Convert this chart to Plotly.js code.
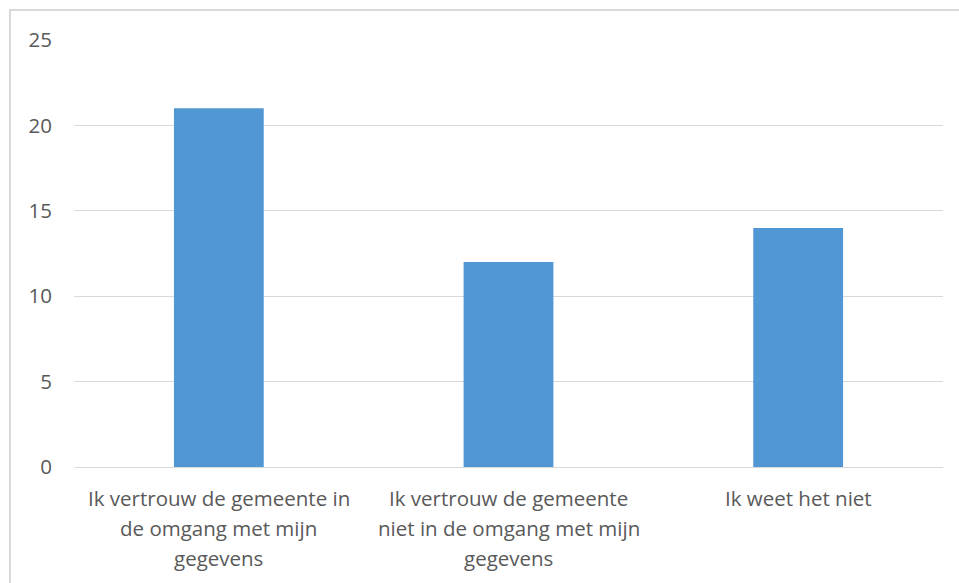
<!DOCTYPE html>
<html>
<head>
<meta charset="utf-8">
<script src="https://cdn.plot.ly/plotly-3.0.1.min.js"></script>
<style>
  html, body { margin: 0; padding: 0; background: #ffffff; }
  #wrap { position: relative; width: 959px; height: 583px; overflow: hidden; }
  #chart { position: absolute; left: 0; top: 0; width: 959px; height: 583px; }
  #frame { position: absolute; left: 9px; top: 9px; width: 960px; height: 600px;
           border-left: 2px solid #d9d9d9; border-top: 2px solid #d9d9d9; pointer-events: none; }
</style>
</head>
<body>
<div id="wrap">
  <div id="chart"></div>
  <div id="frame"></div>
</div>
<script>
const categories = [
  "Ik vertrouw de gemeente in de omgang met mijn gegevens",
  "Ik vertrouw de gemeente niet in de omgang met mijn gegevens",
  "Ik weet het niet"
];
const labelLines = [
  ["Ik vertrouw de gemeente in", "de omgang met mijn", "gegevens"],
  ["Ik vertrouw de gemeente", "niet in de omgang met mijn", "gegevens"],
  ["Ik weet het niet"]
];
const values = [21, 12, 14];
const yTicks = [0, 5, 10, 15, 20, 25];

const textColor = '#595959';
const fontFamily = '"Open Sans", Lato, sans-serif';

const trace = {
  type: 'bar',
  x: categories,
  y: values,
  marker: { color: '#5097d3' },
  width: 0.31,
  hoverinfo: 'x+y'
};

const annotations = [];
labelLines.forEach((lines, ci) => {
  lines.forEach((line, li) => {
    annotations.push({
      x: categories[ci],
      xref: 'x',
      y: 0,
      yref: 'paper',
      yanchor: 'middle',
      xanchor: 'center',
      yshift: -(31 + li * 30),
      text: line,
      showarrow: false,
      font: { family: fontFamily, size: 20.5, color: textColor }
    });
  });
});

const layout = {
  width: 959,
  height: 583,
  margin: { l: 74, r: 16, t: 40, b: 116 },
  paper_bgcolor: '#ffffff',
  plot_bgcolor: '#ffffff',
  font: { family: fontFamily, size: 20.5, color: textColor },
  showlegend: false,
  annotations: annotations,
  xaxis: {
    type: 'category',
    showgrid: false,
    showline: false,
    zeroline: false,
    ticks: '',
    showticklabels: false
  },
  yaxis: {
    range: [0, 25],
    tickvals: yTicks,
    ticktext: yTicks.map(String),
    showgrid: true,
    gridcolor: '#d9d9d9',
    gridwidth: 1,
    zeroline: true,
    zerolinecolor: '#d9d9d9',
    zerolinewidth: 1,
    showline: false,
    ticks: '',
    ticklabelstandoff: 21,
    tickfont: { family: fontFamily, size: 20.5, color: textColor }
  }
};

Plotly.newPlot('chart', [trace], layout, { displayModeBar: false, staticPlot: true });
</script>
</body>
</html>
